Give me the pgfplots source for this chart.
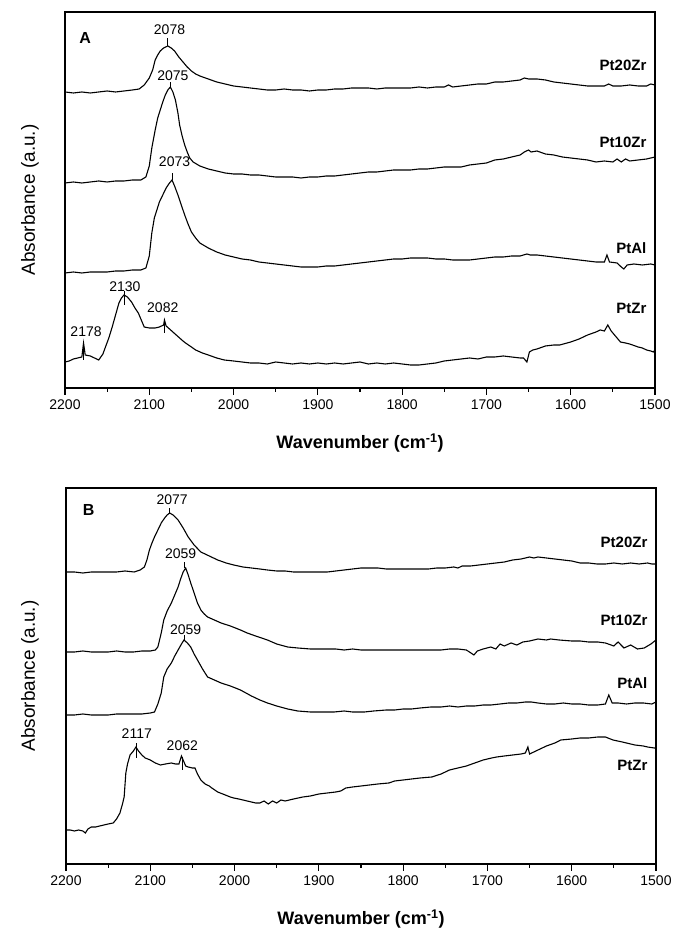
\documentclass[border=0pt]{standalone}
\usepackage{fontspec}
\setmainfont{Liberation Sans}
\usepackage{pgfplots}
\pgfplotsset{compat=1.18}
\tikzset{
  nm/.style={anchor=east, font=\bfseries\fontsize{15}{15}\selectfont},
  pk/.style={font=\fontsize{14}{14}\selectfont},
}
\begin{document}
\begin{tikzpicture}
\useasboundingbox (0pt,0pt) rectangle (676pt,931pt);
\pgfplotsset{
  spec/.style={
    width=590pt, height=376pt, scale only axis,
    x dir=reverse, xmin=1500, xmax=2200, ymin=0, ymax=376,
    ytick=\empty, xtick={1500,1600,...,2200},
    minor x tick num=1, xtick pos=bottom, tick align=outside,
    major tick length=7pt, minor tick length=4pt,
    axis line style={line width=1.6pt}, every tick/.style={line width=1.2pt,black},
    /pgf/number format/assume math mode=true,
    /pgf/number format/set thousands separator={},
    tick label style={font=\fontsize{14}{14}\selectfont},
    xticklabel style={yshift=-1pt},
    no markers,
    every axis plot post/.append style={black, line width=1.1pt},
    clip=false,
  },
}
% Panel A
\begin{axis}[spec, at={(65pt,919pt)}, anchor=north west]
\addplot coordinates {(2200,296)(2190,295)(2180,296)(2170,295)(2160,296)(2150,297)(2140,296)(2130,297)(2120,298)(2112,299)(2106,303)(2100,310)(2096,318)(2093,328)(2090,333)(2087,337)(2083,340)(2078,342)(2074,340)(2070,337)(2065,331)(2060,326)(2055,321)(2050,317)(2045,314)(2040,312)(2030,309)(2020,306)(2010,304)(2000,302)(1990,301)(1980,300)(1970,299)(1960,298)(1950,298)(1940,299)(1930,298)(1920,298)(1910,297)(1900,298)(1890,298)(1880,299)(1870,299)(1860,300)(1850,300)(1840,300)(1830,299)(1820,300)(1810,300)(1800,300)(1790,300)(1780,301)(1770,300)(1760,301)(1750,301)(1745,303)(1740,301)(1730,302)(1720,303)(1710,304)(1700,304)(1690,306)(1680,306)(1670,307)(1660,308)(1655,310)(1650,309)(1645,309)(1640,309)(1630,308)(1620,306)(1610,305)(1600,304)(1590,303)(1580,302)(1570,302)(1560,302)(1555,304)(1550,302)(1540,302)(1530,303)(1520,302)(1510,302)(1505,304)(1500,303)};
\addplot coordinates {(2200,205)(2190,206)(2180,205)(2170,206)(2160,207)(2150,206)(2140,207)(2130,207)(2120,208)(2110,208)(2104,211)(2100,222)(2097,240)(2093,258)(2090,270)(2087,278)(2084,286)(2081,293)(2078,298)(2075,301)(2072,296)(2069,288)(2066,275)(2064,263)(2061,252)(2058,243)(2055,236)(2052,230)(2048,226)(2044,224)(2040,222)(2030,219)(2020,217)(2010,215)(2000,214)(1990,214)(1980,213)(1970,213)(1960,212)(1950,211)(1940,211)(1930,211)(1920,210)(1910,211)(1900,211)(1890,212)(1880,212)(1870,213)(1860,214)(1850,215)(1840,216)(1830,216)(1820,217)(1810,218)(1800,218)(1790,218)(1780,219)(1770,219)(1760,220)(1750,221)(1740,221)(1730,221)(1720,223)(1710,224)(1700,225)(1690,228)(1680,229)(1670,231)(1660,233)(1655,236)(1650,238)(1647,236)(1640,237)(1630,234)(1620,233)(1610,231)(1600,230)(1590,229)(1580,228)(1570,226)(1560,227)(1550,226)(1545,229)(1540,226)(1535,229)(1530,227)(1520,228)(1510,229)(1505,230)(1500,231)};
\addplot coordinates {(2200,115)(2190,116)(2180,115)(2170,116)(2160,116)(2150,116)(2140,117)(2130,117)(2120,118)(2110,118)(2104,120)(2100,132)(2097,155)(2094,170)(2091,178)(2088,186)(2084,193)(2080,200)(2076,205)(2073,208)(2070,202)(2066,193)(2062,183)(2058,173)(2054,164)(2050,156)(2045,150)(2040,145)(2030,140)(2020,136)(2010,133)(2000,131)(1990,129)(1980,128)(1970,126)(1960,125)(1950,124)(1940,123)(1930,122)(1920,121)(1910,121)(1900,121)(1890,122)(1880,122)(1870,123)(1860,124)(1850,125)(1840,126)(1830,127)(1820,128)(1810,129)(1800,129)(1790,130)(1780,130)(1770,130)(1760,129)(1750,129)(1740,128)(1730,128)(1720,128)(1710,129)(1700,130)(1690,131)(1680,131)(1670,132)(1660,132)(1652,134)(1648,133)(1640,133)(1630,132)(1620,131)(1610,130)(1600,129)(1590,128)(1580,127)(1570,126)(1560,126)(1557,133)(1554,126)(1545,125)(1540,121)(1537,119)(1533,123)(1525,124)(1515,123)(1505,124)(1500,123)};
\addplot coordinates {(2200,26)(2195,27)(2190,29)(2185,30)(2180,31)(2178,45)(2176,33)(2170,32)(2165,30)(2160,28)(2155,34)(2152,41)(2148,50)(2144,61)(2140,73)(2136,85)(2133,90)(2130,93)(2126,91)(2121,86)(2117,80)(2113,75)(2109,67)(2106,61)(2100,60)(2093,60)(2088,61)(2083,63)(2082,68)(2080,62)(2076,59)(2072,56)(2068,53)(2064,50)(2060,47)(2057,45)(2050,41)(2045,38)(2037,35)(2030,33)(2020,30)(2011,28)(2000,27)(1990,26)(1980,25)(1970,25)(1960,24)(1950,26)(1940,25)(1930,24)(1920,25)(1910,24)(1900,25)(1890,24)(1880,25)(1870,24)(1860,25)(1850,26)(1840,24)(1830,25)(1820,24)(1810,25)(1800,24)(1790,23)(1780,23)(1770,24)(1760,25)(1750,27)(1740,28)(1730,29)(1720,30)(1710,29)(1700,31)(1690,31)(1680,32)(1670,31)(1660,30)(1656,30)(1652,26)(1649,36)(1645,38)(1640,39)(1630,42)(1620,43)(1613,43)(1600,46)(1590,49)(1580,53)(1570,56)(1565,58)(1560,57)(1556,63)(1552,57)(1545,50)(1541,46)(1535,45)(1530,44)(1520,41)(1515,40)(1510,38)(1505,37)(1502,36)(1500,38)};
\draw[line width=0.8pt] (axis cs:2078,342) -- (axis cs:2078,350);
\draw[line width=0.8pt] (axis cs:2075,301) -- (axis cs:2075,306);
\draw[line width=0.8pt] (axis cs:2073,208) -- (axis cs:2073,215);
\draw[line width=0.8pt] (axis cs:2130,83) -- (axis cs:2130,97);
\draw[line width=0.8pt] (axis cs:2082,55) -- (axis cs:2082,68);
\draw[line width=0.8pt] (axis cs:2178,28) -- (axis cs:2178,45);
\node[pk] at (axis cs:2076,358) {2078};
\node[pk] at (axis cs:2072,312) {2075};
\node[pk] at (axis cs:2070,226) {2073};
\node[pk] at (axis cs:2129,101) {2130};
\node[pk] at (axis cs:2084,80) {2082};
\node[pk] at (axis cs:2175,56) {2178};
\node[nm] at (axis cs:1506,323) {Pt20Zr};
\node[nm] at (axis cs:1506,246) {Pt10Zr};
\node[nm] at (axis cs:1506,140) {PtAl};
\node[nm] at (axis cs:1506,80) {PtZr};
\node[font=\bfseries\fontsize{16}{16}\selectfont] at (axis cs:2176,350) {A};
\end{axis}
% Panel B
\begin{axis}[spec, at={(66pt,443pt)}, anchor=north west]
\addplot coordinates {(2200,292)(2190,292)(2180,291)(2170,292)(2160,292)(2150,292)(2140,292)(2130,293)(2119,292)(2112,294)(2107,297)(2104,304)(2101,314)(2098,321)(2095,327)(2091,334)(2087,341)(2083,346)(2080,349)(2077,351)(2073,349)(2067,344)(2061,336)(2055,327)(2048,319)(2040,312)(2030,308)(2020,304)(2010,301)(2001,299)(1990,297)(1980,296)(1970,295)(1961,294)(1950,293)(1940,293)(1930,292)(1920,292)(1910,292)(1900,292)(1890,292)(1880,293)(1870,294)(1860,295)(1850,296)(1840,296)(1830,296)(1820,295)(1810,295)(1800,295)(1790,295)(1780,295)(1770,295)(1760,296)(1750,296)(1740,297)(1735,296)(1730,298)(1720,298)(1710,299)(1700,300)(1690,301)(1680,302)(1670,304)(1660,305)(1650,307)(1645,306)(1640,307)(1630,306)(1620,305)(1610,304)(1600,303)(1590,301)(1580,301)(1570,300)(1560,300)(1550,301)(1540,300)(1530,301)(1520,300)(1510,301)(1505,300)(1500,300)};
\addplot coordinates {(2200,212)(2190,212)(2180,213)(2170,212)(2160,212)(2150,212)(2140,213)(2130,212)(2120,212)(2110,213)(2100,213)(2094,214)(2091,217)(2087,231)(2084,244)(2080,253)(2075,261)(2071,269)(2067,277)(2064,285)(2061,292)(2058,296)(2055,289)(2052,281)(2048,271)(2044,261)(2040,254)(2036,250)(2032,247)(2024,244)(2016,241)(2005,238)(1993,234)(1985,231)(1975,228)(1961,224)(1950,220)(1937,217)(1925,216)(1910,215)(1900,215)(1890,215)(1880,215)(1870,214)(1860,215)(1850,214)(1840,214)(1830,214)(1820,214)(1810,214)(1800,214)(1790,214)(1780,214)(1767,214)(1755,214)(1745,215)(1735,215)(1725,214)(1716,209)(1712,213)(1705,215)(1696,217)(1690,215)(1685,220)(1680,218)(1672,221)(1665,219)(1658,222)(1650,223)(1645,224)(1640,225)(1630,224)(1625,225)(1615,224)(1600,223)(1590,223)(1580,222)(1569,222)(1560,221)(1550,218)(1545,222)(1538,216)(1530,219)(1522,215)(1514,216)(1506,220)(1500,224)};
\addplot coordinates {(2200,149)(2190,149)(2180,150)(2170,149)(2160,149)(2150,149)(2140,150)(2130,150)(2120,150)(2110,150)(2100,151)(2095,152)(2091,160)(2087,171)(2084,187)(2080,195)(2075,201)(2071,208)(2067,214)(2063,220)(2060,224)(2056,221)(2052,217)(2048,210)(2044,204)(2038,195)(2032,187)(2024,184)(2016,181)(2005,178)(1993,174)(1980,168)(1970,164)(1961,161)(1950,158)(1937,155)(1925,153)(1910,152)(1900,152)(1890,152)(1882,152)(1870,153)(1860,152)(1846,152)(1835,153)(1820,154)(1810,154)(1800,155)(1790,155)(1780,156)(1767,157)(1755,157)(1745,158)(1735,157)(1725,158)(1715,158)(1705,159)(1696,159)(1685,160)(1675,161)(1665,161)(1655,162)(1648,162)(1640,161)(1630,160)(1620,160)(1610,161)(1600,160)(1590,160)(1580,159)(1569,159)(1560,160)(1556,169)(1552,161)(1545,161)(1535,160)(1525,161)(1515,161)(1505,160)(1500,162)};
\addplot coordinates {(2200,34)(2195,34)(2190,33)(2185,34)(2180,33)(2177,31)(2174,35)(2170,37)(2165,37)(2160,38)(2155,39)(2150,40)(2144,41)(2140,45)(2136,51)(2133,60)(2131,67)(2129,91)(2127,100)(2124,109)(2120,113)(2117,117)(2114,113)(2110,109)(2106,106)(2100,104)(2094,101)(2088,99)(2082,100)(2075,101)(2070,100)(2066,100)(2063,108)(2060,102)(2058,98)(2055,97)(2050,96)(2047,96)(2044,90)(2040,84)(2035,80)(2030,78)(2027,76)(2020,72)(2011,69)(2005,67)(2001,66)(1995,65)(1990,64)(1980,62)(1975,61)(1970,61)(1965,63)(1960,60)(1955,63)(1950,61)(1945,64)(1940,63)(1930,65)(1919,67)(1910,68)(1900,70)(1890,71)(1880,72)(1874,73)(1868,76)(1860,77)(1850,78)(1840,79)(1830,80)(1817,81)(1810,83)(1800,84)(1790,85)(1780,86)(1766,87)(1755,90)(1745,94)(1735,96)(1725,98)(1715,101)(1705,104)(1695,106)(1689,107)(1680,108)(1670,109)(1660,110)(1655,111)(1652,117)(1650,110)(1645,112)(1640,114)(1630,118)(1620,121)(1613,124)(1600,125)(1590,126)(1580,126)(1569,127)(1560,127)(1551,124)(1540,122)(1530,120)(1525,119)(1515,118)(1510,117)(1502,116)(1500,116)};
\draw[line width=0.8pt] (axis cs:2077,351) -- (axis cs:2077,356);
\draw[line width=0.8pt] (axis cs:2059,296) -- (axis cs:2059,302);
\draw[line width=0.8pt] (axis cs:2059,224) -- (axis cs:2059,229);
\draw[line width=0.8pt] (axis cs:2117,106) -- (axis cs:2117,121);
\draw[line width=0.8pt] (axis cs:2062,94) -- (axis cs:2062,107);
\node[pk] at (axis cs:2074,364) {2077};
\node[pk] at (axis cs:2064,310) {2059};
\node[pk] at (axis cs:2058,234) {2059};
\node[pk] at (axis cs:2116,130) {2117};
\node[pk] at (axis cs:2062,118) {2062};
\node[nm] at (axis cs:1506,322) {Pt20Zr};
\node[nm] at (axis cs:1506,244) {Pt10Zr};
\node[nm] at (axis cs:1506,181) {PtAl};
\node[nm] at (axis cs:1506,99) {PtZr};
\node[font=\bfseries\fontsize{16}{16}\selectfont] at (axis cs:2173,354) {B};
\end{axis}
% axis titles
\node[rotate=90, font=\fontsize{19}{19}\selectfont] at (30pt,731pt) {Absorbance (a.u.)};
\node[rotate=90, font=\fontsize{19}{19}\selectfont] at (30pt,255pt) {Absorbance (a.u.)};
\node[font=\bfseries\fontsize{18}{18}\selectfont] at (360pt,488pt) {Wavenumber (cm\textsuperscript{-1})};
\node[font=\bfseries\fontsize{18}{18}\selectfont] at (361pt,12pt) {Wavenumber (cm\textsuperscript{-1})};
\end{tikzpicture}
\end{document}
